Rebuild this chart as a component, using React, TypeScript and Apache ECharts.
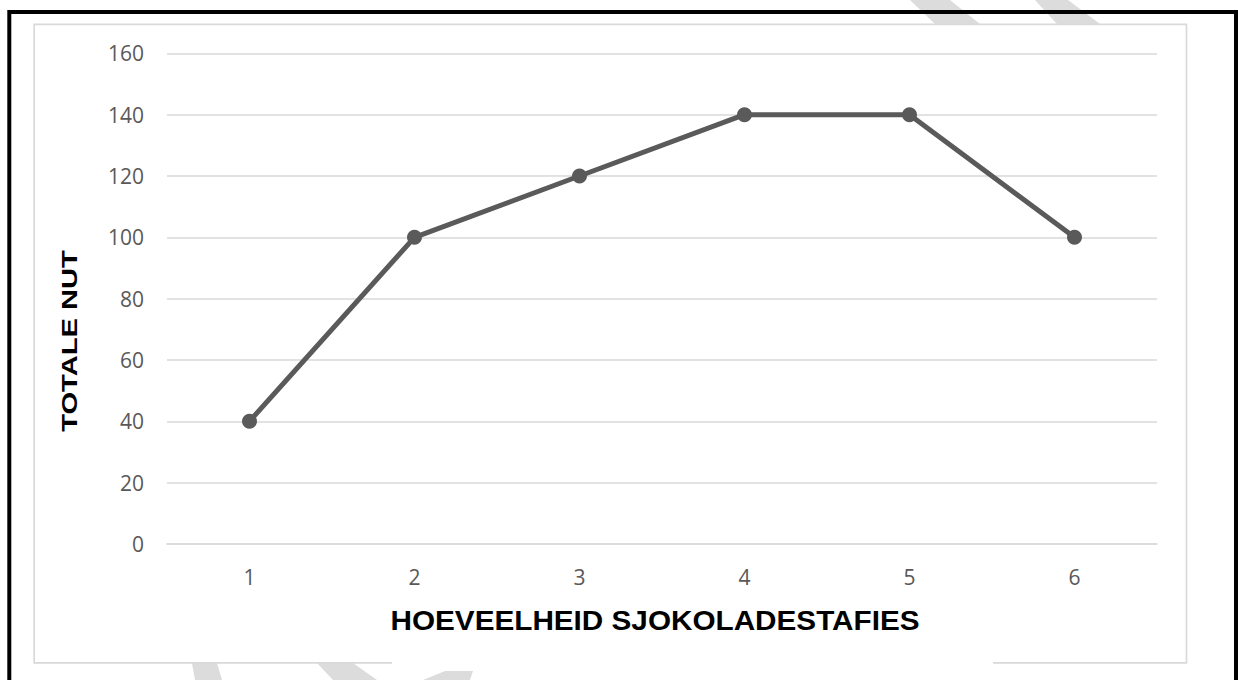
import React, { useEffect, useRef } from "react";
import * as echarts from "echarts";

const categories = ["1", "2", "3", "4", "5", "6"];
const totalUtility = [40, 100, 120, 140, 140, 100];
const yTicks = { min: 0, max: 160, interval: 20 };
const xTitle = "HOEVEELHEID SJOKOLADESTAFIES";
const yTitle = "TOTALE NUT";

const WM = "#dcdcdc";

export default function App() {
  const ref = useRef<HTMLDivElement>(null);
  useEffect(() => {
    if (!ref.current) return;
    const chart = echarts.init(ref.current, undefined, { renderer: "svg" });
    chart.setOption({
      animation: false,
      backgroundColor: "#ffffff",
      grid: { left: 167, right: 81, top: 53.3, bottom: 136, outerBoundsMode: "none" },
      xAxis: {
        type: "category",
        data: categories,
        boundaryGap: true,
        axisLine: { show: true, lineStyle: { color: "#d9d9d9", width: 1.5 } },
        axisTick: { show: false },
        axisLabel: { margin: 22, fontSize: 21, color: "#595959", fontFamily: "Open Sans" },
      },
      yAxis: {
        type: "value",
        min: yTicks.min,
        max: yTicks.max,
        interval: yTicks.interval,
        axisLine: { show: false },
        axisTick: { show: false },
        axisLabel: { margin: 23, fontSize: 21, color: "#595959", fontFamily: "Open Sans" },
        splitLine: { lineStyle: { color: "#d9d9d9", width: 1.5 } },
      },
      series: [
        {
          type: "line",
          data: totalUtility,
          color: "#5a5a5a",
          lineStyle: { width: 5, color: "#5a5a5a" },
          itemStyle: { color: "#5a5a5a" },
          symbol: "circle",
          symbolSize: 15,
          z: 3,
        },
      ],
      graphic: {
        elements: [
          // watermark fragments
          { type: "polygon", z: -10, shape: { points: [[910, 0], [950, 0], [980, 24], [935, 24]] }, style: { fill: WM } },
          { type: "polygon", z: -10, shape: { points: [[1035, 0], [1068, 0], [1100, 24], [1057, 24]] }, style: { fill: WM } },
          { type: "polygon", z: -10, shape: { points: [[192, 663], [217, 663], [222, 680], [195, 680]] }, style: { fill: WM } },
          { type: "polygon", z: -10, shape: { points: [[317, 663], [353, 663], [377, 680], [333, 680]] }, style: { fill: WM } },
          { type: "polygon", z: -10, shape: { points: [[445, 671], [473, 671], [470, 680], [423, 680]] }, style: { fill: WM } },
          // chart area border (light grey, bottom interrupted)
          {
            type: "polyline",
            z: -5,
            shape: { points: [[392, 662.8], [34.2, 662.8], [34.2, 24.3], [1186.5, 24.3], [1186.5, 662.8], [993, 662.8]] },
            style: { stroke: "#d9d9d9", lineWidth: 1.7, fill: "none" },
          },
          // black frame
          {
            type: "polyline",
            z: 5,
            shape: { points: [[9.3, 680], [9.3, 12], [1236, 12], [1236, 680]] },
            style: { stroke: "#000000", lineWidth: 4, fill: "none" },
          },
          // axis titles
          {
            type: "text",
            z: 5,
            x: 655,
            y: 620,
            scaleX: 1.1,
            scaleY: 1,
            style: {
              text: xTitle,
              fontFamily: "Liberation Sans",
              fontWeight: "bold",
              fontSize: 27,
              fill: "#000000",
              align: "center",
              verticalAlign: "middle",
            },
          },
          {
            type: "text",
            z: 5,
            x: 69.5,
            y: 341,
            rotation: Math.PI / 2,
            scaleX: 1.42,
            scaleY: 1.05,
            style: {
              text: yTitle,
              fontFamily: "Liberation Sans",
              fontWeight: "bold",
              fontSize: 20.5,
              fill: "#000000",
              align: "center",
              verticalAlign: "middle",
            },
          },
        ],
      },
    });
    return () => chart.dispose();
  }, []);
  return (
    <div
      ref={ref}
      style={{ position: "fixed", left: 0, top: 0, width: 1238, height: 680, background: "#ffffff" }}
    />
  );
}
